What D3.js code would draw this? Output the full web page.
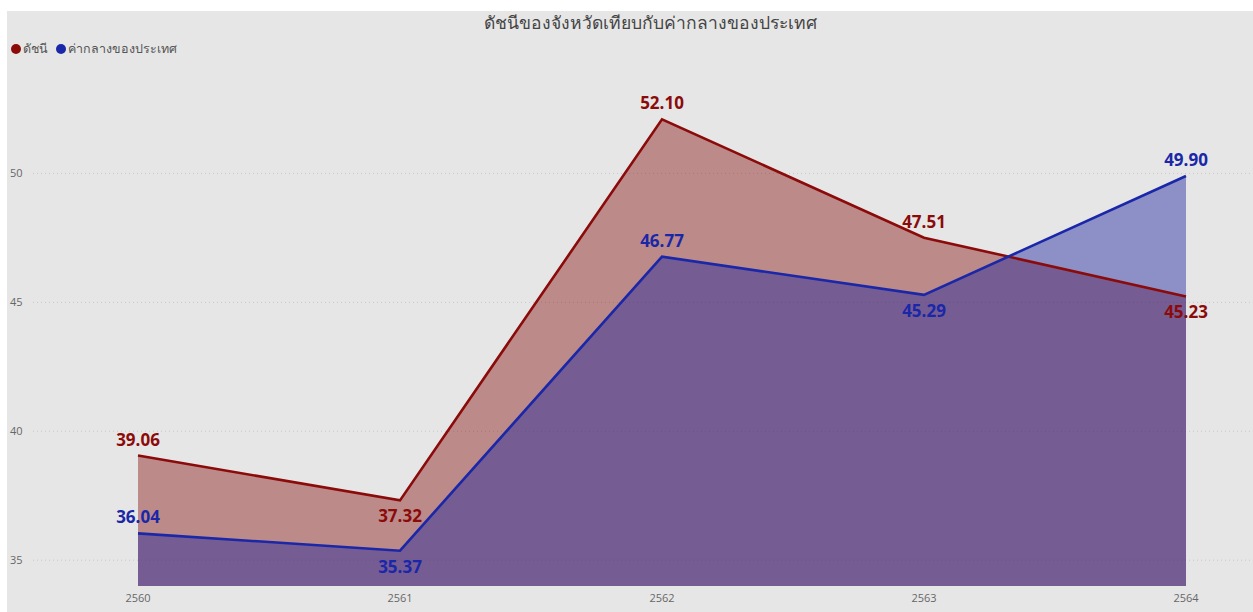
<!DOCTYPE html>
<html><head><meta charset="utf-8">
<script src="https://cdn.jsdelivr.net/npm/d3@7"></script>
<style>
body{margin:0;background:#fff;}
text{font-family:"Segoe UI","Open Sans","Noto Sans",sans-serif;}
</style></head>
<body><svg id="c" width="1253" height="612"></svg>
<script>
const years = ["2560","2561","2562","2563","2564"];
const indexValues = [39.06, 37.32, 52.10, 47.51, 45.23];
const nationalValues = [36.04, 35.37, 46.77, 45.29, 49.90];
const yTicks = [35, 40, 45, 50];
const seriesNames = ["ดัชนี", "ค่ากลางของประเทศ"];
const title = "ดัชนีของจังหวัดเทียบกับค่ากลางของประเทศ";
// label placement: 1 above, -1 below
const indexLabelPos = [1, -1, 1, 1, -1];
const nationalLabelPos = [1, -1, 1, -1, 1];

const svg = d3.select("#c");
svg.append("rect").attr("x",7).attr("y",11).attr("width",1246).attr("height",601).attr("fill","#e6e6e6");

const x = d3.scalePoint().domain(years).range([138, 1186]);
const y = d3.scaleLinear().domain([34.0, 54.4]).range([586, 60]);

svg.append("text").attr("x",650).attr("y",29).attr("text-anchor","middle")
  .attr("font-size",17.5).attr("fill","#444").text(title);

// legend
const lg = svg.append("g");
lg.append("circle").attr("cx",16).attr("cy",49).attr("r",5).attr("fill","#8b0a0a");
lg.append("text").attr("x",23).attr("y",53).attr("font-size",12.5).attr("fill","#555").text(seriesNames[0]);
lg.append("circle").attr("cx",61).attr("cy",49).attr("r",5).attr("fill","#1a27a8");
lg.append("text").attr("x",68).attr("y",53).attr("font-size",12.5).attr("fill","#555").text(seriesNames[1]);

// grid + y ticks
const yg = svg.append("g");
yTicks.forEach(t=>{
  yg.append("line").attr("x1",33).attr("x2",1250).attr("y1",y(t)).attr("y2",y(t))
    .attr("stroke","#c8c8c8").attr("stroke-dasharray","1,3");
  yg.append("text").attr("x",10).attr("y",y(t)+4).attr("font-size",11).attr("fill","#666").text(t);
});

// x axis labels
svg.append("g").selectAll("text").data(years).join("text")
  .attr("x",d=>x(d)).attr("y",602).attr("text-anchor","middle").attr("font-size",11).attr("fill","#666").text(d=>d);

const area = vals => d3.area().x((d,i)=>x(years[i])).y0(y.range()[0]).y1(d=>y(d))(vals);
const line = vals => d3.line().x((d,i)=>x(years[i])).y(d=>y(d))(vals);

svg.append("path").attr("d",area(indexValues)).attr("fill","rgb(128,0,0)").attr("fill-opacity",0.4);
svg.append("path").attr("d",area(nationalValues)).attr("fill","rgb(25,35,160)").attr("fill-opacity",0.44);
svg.append("path").attr("d",line(indexValues)).attr("fill","none").attr("stroke","#8b0a0a").attr("stroke-width",2.6);
svg.append("path").attr("d",line(nationalValues)).attr("fill","none").attr("stroke","#1a27a8").attr("stroke-width",2.6);

function labels(vals,pos,color){
  svg.append("g").selectAll("text").data(vals).join("text")
    .attr("x",(d,i)=>x(years[i])).attr("y",(d,i)=>y(d) + (pos[i]>0 ? -10 : 22))
    .attr("text-anchor","middle").attr("font-size",17).attr("font-weight","bold")
    .attr("fill",color).text(d=>d.toFixed(2));
}
labels(indexValues,indexLabelPos,"#8b0a0a");
labels(nationalValues,nationalLabelPos,"#1a27a8");
</script></body></html>
